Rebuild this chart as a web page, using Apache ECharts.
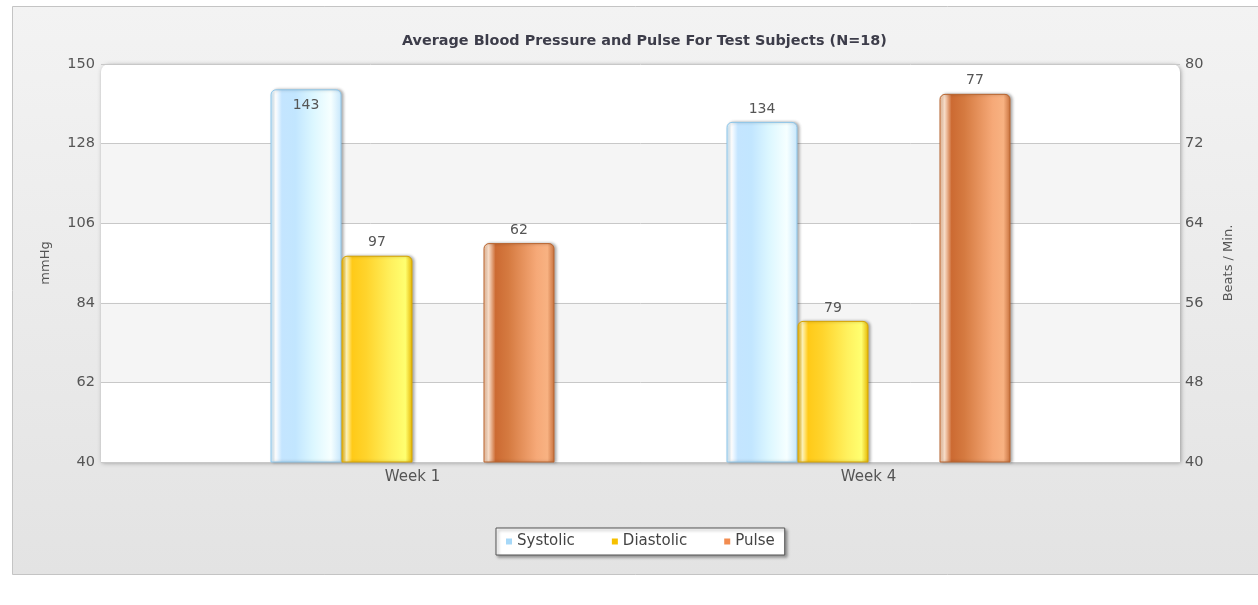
<!DOCTYPE html>
<html>
<head>
<meta charset="utf-8">
<script src="https://cdn.jsdelivr.net/npm/echarts@6/dist/echarts.min.js"></script>
<style>
html,body{margin:0;padding:0;background:#fff;}
#main{width:1258px;height:605px;}
</style>
</head>
<body>
<div id="main"></div>
<script>
var categories = ['Week 1', 'Week 4'];
var systolic = [143, 134];
var diastolic = [97, 79];
var pulse = [62, 77];
var leftTicks = {min: 40, max: 150, interval: 22};
var rightTicks = {min: 40, max: 80, interval: 8};
var seriesNames = ['Systolic', 'Diastolic', 'Pulse'];
var legendColors = ['#a6d8f8', '#f6c000', '#f28c50'];

var FONT = 'DejaVu Sans';
var chart = echarts.init(document.getElementById('main'));

function grad(stops) {
  return new echarts.graphic.LinearGradient(0, 0, 1, 0, stops.map(function (s) { return {offset: s[0], color: s[1]}; }));
}
var sysFill = grad([[0,'#cfeeff'],[0.07,'#ffffff'],[0.16,'#c4e5ff'],[0.35,'#c2e6ff'],[0.6,'#dcf7ff'],[0.85,'#f6ffff'],[1,'#c6e6fb']]);
var diaFill = grad([[0,'#efb200'],[0.07,'#fff4b8'],[0.15,'#ffca18'],[0.35,'#ffd42c'],[0.7,'#fff15e'],[0.9,'#ffff70'],[1,'#e5b500']]);
var pulFill = grad([[0,'#f2c3a2'],[0.07,'#fbe0cb'],[0.17,'#cc6a32'],[0.35,'#d57a40'],[0.75,'#f6a978'],[0.9,'#f8b282'],[1,'#c7703c']]);

var labelStyle = {show: true, position: 'top', distance: 6, color: '#555', fontFamily: FONT, fontSize: 14};
var barShadow = {shadowBlur: 3, shadowColor: 'rgba(0,0,0,0.3)', shadowOffsetX: 2, shadowOffsetY: 0};

var sysData = systolic.map(function (v, i) {
  var d = {value: v};
  if (i === 0) d.label = {position: 'insideTop', distance: 9};
  return d;
});

var option = {
  animation: false,
  textStyle: {fontFamily: FONT},
  graphic: [
    {type: 'rect', z: -20, shape: {x: 12.5, y: 6.5, width: 1250, height: 568},
     style: {fill: new echarts.graphic.LinearGradient(0, 0, 0, 1, [{offset: 0, color: '#f3f3f3'}, {offset: 1, color: '#e3e3e3'}]), stroke: '#c4c4c4', lineWidth: 1}},
    {type: 'rect', z: -10, shape: {x: 101, y: 64, width: 1079, height: 398, r: [8, 8, 0, 0]},
     style: {fill: '#ffffff', shadowBlur: 4, shadowColor: 'rgba(0,0,0,0.35)', shadowOffsetX: 1, shadowOffsetY: 1}}
  ],
  title: {
    text: 'Average Blood Pressure and Pulse For Test Subjects (N=18)',
    left: 397, top: 29,
    textStyle: {fontFamily: FONT, fontSize: 14.4, fontWeight: 'bold', color: '#3d3d4a'}
  },
  legend: {
    data: seriesNames.map(function (n, i) { return {name: n, itemStyle: {color: legendColors[i], borderWidth: 0, shadowBlur: 0}}; }),
    left: 496, top: 528,
    icon: 'rect', itemWidth: 6, itemHeight: 6, itemGap: 37,
    padding: [6, 10, 6, 10],
    backgroundColor: '#ffffff', borderColor: '#555', borderWidth: 1,
    shadowBlur: 3, shadowColor: 'rgba(0,0,0,0.35)', shadowOffsetX: 2, shadowOffsetY: 2,
    textStyle: {fontFamily: FONT, fontSize: 15, color: '#444'}
  },
  grid: [
    {left: 101, right: 78, top: 64, bottom: 143, show: false},
    {left: 184.5, right: 161.5, top: 64, bottom: 143, show: false}
  ],
  xAxis: [
    {type: 'category', gridIndex: 0, data: categories, show: false},
    {type: 'category', gridIndex: 1, data: categories,
     axisLine: {show: false}, axisTick: {show: false},
     axisLabel: {color: '#555', fontFamily: FONT, fontSize: 15, margin: 8}}
  ],
  yAxis: [
    {type: 'value', gridIndex: 0, position: 'left', min: leftTicks.min, max: leftTicks.max, interval: leftTicks.interval,
     name: 'mmHg', nameLocation: 'middle', nameGap: 49, nameRotate: 90,
     nameTextStyle: {color: '#555', fontFamily: FONT, fontSize: 13},
     axisLine: {show: false}, axisTick: {show: false},
     axisLabel: {color: '#555', fontFamily: FONT, fontSize: 14.5, margin: 6},
     splitLine: {show: true, lineStyle: {color: '#c8c8c8', width: 1}},
     splitArea: {show: true, areaStyle: {color: ['rgba(0,0,0,0)', '#f5f5f5']}}},
    {type: 'value', gridIndex: 0, position: 'right', min: rightTicks.min, max: rightTicks.max, interval: rightTicks.interval,
     name: 'Beats / Min.', nameLocation: 'middle', nameGap: 42, nameRotate: 90,
     nameTextStyle: {color: '#555', fontFamily: FONT, fontSize: 13},
     axisLine: {show: false}, axisTick: {show: false},
     axisLabel: {color: '#555', fontFamily: FONT, fontSize: 14.5, margin: 5},
     splitLine: {show: false}},
    {type: 'value', gridIndex: 1, min: leftTicks.min, max: leftTicks.max, interval: leftTicks.interval, show: false, splitLine: {show: false}},
    {type: 'value', gridIndex: 1, min: rightTicks.min, max: rightTicks.max, interval: rightTicks.interval, show: false, splitLine: {show: false}}
  ],
  series: [
    {name: seriesNames[0], type: 'bar', xAxisIndex: 1, yAxisIndex: 2, data: sysData, barWidth: 71, barGap: '0%',
     itemStyle: Object.assign({color: sysFill, borderColor: '#8ec6ea', borderWidth: 1, borderRadius: [5, 5, 0, 0]}, barShadow),
     label: labelStyle},
    {name: seriesNames[1], type: 'bar', xAxisIndex: 1, yAxisIndex: 2, data: diastolic, barWidth: 71, barGap: '0%',
     itemStyle: Object.assign({color: diaFill, borderColor: '#d8a500', borderWidth: 1, borderRadius: [5, 5, 0, 0]}, barShadow),
     label: labelStyle},
    {name: 'gap', type: 'bar', xAxisIndex: 1, yAxisIndex: 2, data: [null, null], barWidth: 71, barGap: '0%'},
    {name: seriesNames[2], type: 'bar', xAxisIndex: 1, yAxisIndex: 3, data: pulse, barWidth: 71, barGap: '0%',
     itemStyle: Object.assign({color: pulFill, borderColor: '#b9652f', borderWidth: 1, borderRadius: [5, 5, 0, 0]}, barShadow),
     label: labelStyle}
  ]
};
chart.setOption(option);
</script>
</body>
</html>
